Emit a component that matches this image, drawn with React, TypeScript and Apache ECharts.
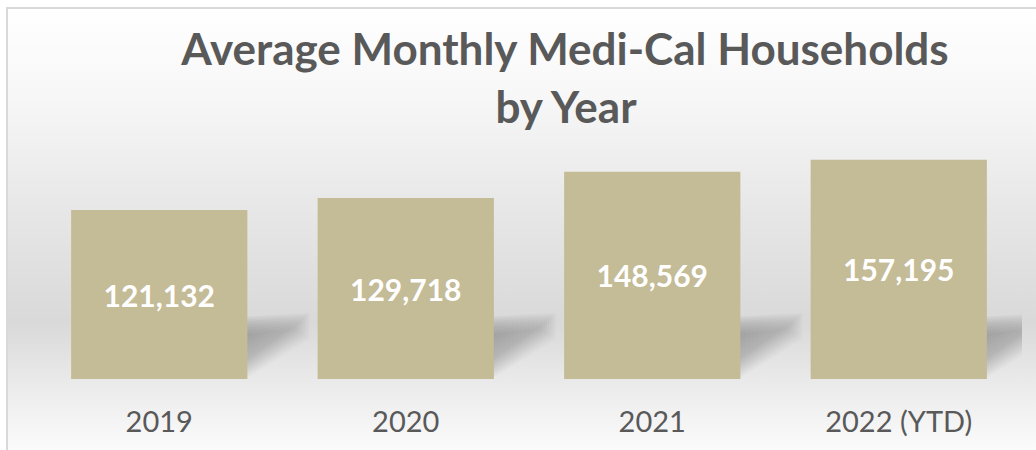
import React, { useEffect, useRef } from "react";
import * as echarts from "echarts";

const categories = ["2019", "2020", "2021", "2022 (YTD)"];
const households = [121132, 129718, 148569, 157195];
const titleLines = ["Average Monthly Medi-Cal Households", "by Year"];

const BAR_COLOR = "#c4bb97";
const TEXT_COLOR = "#595959";
const FONT = "Lato, 'Open Sans', sans-serif";

export default function App() {
  const ref = useRef<HTMLDivElement>(null);

  useEffect(() => {
    document.body.style.margin = "0";
    if (!ref.current) return;
    const chart = echarts.init(ref.current, undefined, { renderer: "svg" });

    const shadowData = households.map((v, i) => [i, v]);

    chart.setOption({
      animation: false,
      graphic: [
        {
          type: "rect",
          z: -100,
          silent: true,
          shape: { x: 7, y: 8, width: 1040, height: 450 },
          style: {
            fill: new echarts.graphic.LinearGradient(0, 0, 0, 1, [
              { offset: 0, color: "#ffffff" },
              { offset: 0.2, color: "#f7f7f7" },
              { offset: 0.43, color: "#e8e8e8" },
              { offset: 0.7, color: "#d9d9d9" },
              { offset: 0.84, color: "#ebebeb" },
              { offset: 1, color: "#fdfdfd" },
            ]),
            stroke: "#d9d9d9",
            lineWidth: 2,
          },
        },
        {
          type: "text",
          z: 10,
          x: 565,
          y: 48,
          style: {
            text: titleLines[0],
            font: `bold 44px ${FONT}`,
            fill: TEXT_COLOR,
            align: "center",
            verticalAlign: "middle",
          },
        },
        {
          type: "text",
          z: 10,
          x: 566,
          y: 106,
          style: {
            text: titleLines[1],
            font: `bold 44px ${FONT}`,
            fill: TEXT_COLOR,
            align: "center",
            verticalAlign: "middle",
          },
        },
      ],
      grid: { left: 36, right: 14, top: 100, bottom: 71 },
      xAxis: {
        type: "category",
        data: categories,
        axisLine: { show: false },
        axisTick: { show: false },
        axisLabel: {
          color: TEXT_COLOR,
          fontFamily: FONT,
          fontSize: 29,
          lineHeight: 29,
          margin: 27,
        },
      },
      yAxis: {
        type: "value",
        min: 0,
        max: 200000,
        show: false,
        splitLine: { show: false },
      },
      series: [
        {
          type: "custom",
          z: 1,
          clip: true,
          silent: true,
          data: shadowData,
          renderItem: (params: any, api: any) => {
            const idx = api.value(0);
            const base = api.coord([idx, 0]);
            const bw = api.size([1, 0])[0] * 0.715;
            const xr = base[0] + bw / 2;
            const yb = base[1];
            const layers: any[] = [];
            const n = 9;
            for (let k = 0; k < n; k++) {
              const d = k * 2.2;
              layers.push({
                type: "polygon",
                shape: {
                  points: [
                    [xr - 6, yb - 62 + d],
                    [xr + 62 - d, yb - 66 + d * 0.9],
                    [xr + 62 - d, yb - 40 - d * 0.6],
                    [xr - 6, yb + 2 - d],
                  ],
                },
                style: {
                  fill: new echarts.graphic.LinearGradient(0, 0, 0.8, 1, [
                    { offset: 0, color: "rgba(100,100,100,0.09)" },
                    { offset: 0.6, color: "rgba(120,120,120,0.05)" },
                    { offset: 1, color: "rgba(150,150,150,0)" },
                  ]),
                },
              });
            }
            return { type: "group", children: layers };
          },
        },
        {
          type: "bar",
          z: 2,
          data: households,
          barWidth: "71.5%",
          itemStyle: { color: BAR_COLOR },
          label: {
            show: true,
            position: "inside",
            color: "#ffffff",
            fontFamily: FONT,
            fontWeight: "bold",
            fontSize: 30,
            formatter: (p: any) => Number(p.value).toLocaleString("en-US"),
          },
        },
      ],
    });

    return () => chart.dispose();
  }, []);

  return <div ref={ref} style={{ width: 1036, height: 450 }} />;
}
